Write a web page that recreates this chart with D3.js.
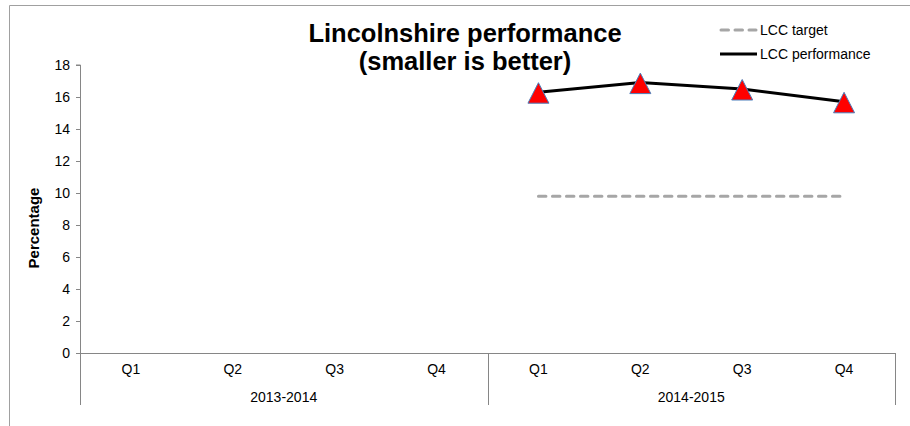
<!DOCTYPE html>
<html><head><meta charset="utf-8">
<script src="https://cdn.jsdelivr.net/npm/d3@7"></script>
<style>body{margin:0;background:#fff}svg{display:block;font-family:"Liberation Sans",Arial,sans-serif}</style>
</head><body><svg id="c" width="910" height="426"></svg>
<script>
const years = ["2013-2014", "2014-2015"];
const quarters = ["Q1", "Q2", "Q3", "Q4"];
const categories = ["2013-2014|Q1","2013-2014|Q2","2013-2014|Q3","2013-2014|Q4","2014-2015|Q1","2014-2015|Q2","2014-2015|Q3","2014-2015|Q4"];
const performance = [null, null, null, null, 16.3, 16.9, 16.5, 15.7];
const target = [null, null, null, null, 9.8, 9.8, 9.8, 9.8];
const yTicks = [0, 2, 4, 6, 8, 10, 12, 14, 16, 18];

const svg = d3.select("#c");
const x0 = 80, x1 = 895, yTop = 65, yBot = 353;
const x = d3.scaleBand().domain(categories).range([x0, x1]);
const y = d3.scaleLinear().domain([0, 18]).range([yBot, yTop]);
const gray = "#868686";
const fs = 14;

// frame
svg.append("path").attr("d", "M9.5,426 V5.5 H910").attr("fill", "none").attr("stroke", "#a0a0a0").attr("stroke-width", 1);

// y axis
const ya = svg.append("g").attr("transform", `translate(${x0},0)`).call(d3.axisLeft(y).tickValues(yTicks).tickSize(4).tickPadding(6));
ya.select(".domain").attr("stroke", gray).attr("d", `M-4,${yTop}H0.5V${yBot}`);
ya.selectAll(".tick line").attr("stroke", gray);
ya.selectAll("text").attr("font-size", fs).attr("fill", "#000").style("font-family", "Liberation Sans, Arial, sans-serif");
ya.selectAll(".tick").attr("transform", d => `translate(0,${Math.round(y(d)) + 0.5})`);

// x axis line
svg.append("line").attr("x1", x0).attr("x2", x1).attr("y1", yBot + 0.5).attr("y2", yBot + 0.5).attr("stroke", gray);
// group separators
const seps = [x0, x(categories[4]), x1];
svg.selectAll(".sep").data(seps).join("line").attr("x1", d => Math.round(d) + 0.5).attr("x2", d => Math.round(d) + 0.5)
  .attr("y1", yBot).attr("y2", 405).attr("stroke", gray);
// quarter labels
svg.selectAll(".ql").data(categories).join("text").attr("x", d => x(d) + x.bandwidth() / 2).attr("y", 374)
  .attr("text-anchor", "middle").attr("font-size", fs).text(d => d.split("|")[1]);
// year labels
svg.selectAll(".yl").data(years).join("text")
  .attr("x", (d, i) => (x(categories[i * 4]) + x(categories[i * 4 + 3]) + x.bandwidth()) / 2).attr("y", 402)
  .attr("text-anchor", "middle").attr("font-size", fs).text(d => d);

// y label
svg.append("text").attr("transform", "translate(39,228) rotate(-90)").attr("text-anchor", "middle")
  .attr("font-size", 15).attr("font-weight", "bold").text("Percentage");

// title
svg.append("text").attr("x", 465).attr("y", 42).attr("text-anchor", "middle").attr("font-size", 25.5).attr("font-weight", "bold").text("Lincolnshire performance");
svg.append("text").attr("x", 465).attr("y", 70).attr("text-anchor", "middle").attr("font-size", 25.5).attr("font-weight", "bold").text("(smaller is better)");

// target line
const tData = categories.map((c, i) => ({c, v: target[i]})).filter(d => d.v != null);
const line = d3.line().x(d => x(d.c) + x.bandwidth() / 2).y(d => y(d.v));
svg.append("path").datum(tData).attr("d", line).attr("fill", "none").attr("stroke", "#a6a6a6").attr("stroke-width", 3)
  .attr("stroke-dasharray", "7.5,6.5").attr("stroke-linecap", "round");

// performance line
const pData = categories.map((c, i) => ({c, v: performance[i]})).filter(d => d.v != null);
svg.append("path").datum(pData).attr("d", line).attr("fill", "none").attr("stroke", "#000").attr("stroke-width", 3);
svg.selectAll(".m").data(pData).join("path").attr("d", "M0,-10.5L10.5,10L-10.5,10Z")
  .attr("transform", d => `translate(${x(d.c) + x.bandwidth() / 2},${y(d.v) + 1})`)
  .attr("fill", "#ff0000").attr("stroke", "#4a7ebb").attr("stroke-width", 1);

// legend
svg.append("line").attr("x1", 721).attr("x2", 756).attr("y1", 30).attr("y2", 30).attr("stroke", "#a6a6a6").attr("stroke-width", 3)
  .attr("stroke-dasharray", "7.5,6.5").attr("stroke-linecap", "round");
svg.append("text").attr("x", 760).attr("y", 35).attr("font-size", 14).text("LCC target");
svg.append("line").attr("x1", 720).attr("x2", 757).attr("y1", 54).attr("y2", 54).attr("stroke", "#000").attr("stroke-width", 3);
svg.append("text").attr("x", 760).attr("y", 59).attr("font-size", 14).text("LCC performance");
</script></body></html>
